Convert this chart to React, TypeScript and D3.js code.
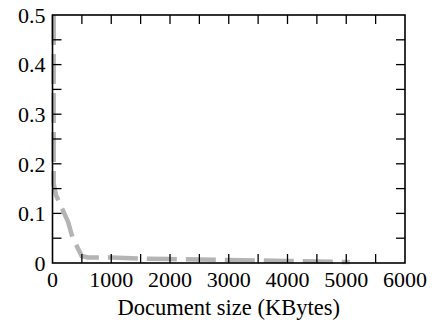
import * as d3 from 'd3';

// document size (KB) vs. fraction of documents
const sizes = [20, 20, 60, 265, 337, 496, 600, 1000, 1500, 2000, 2500, 3000, 3500, 4000, 4500, 5060];
const fractions = [0.5, 0.16, 0.137, 0.083, 0.053, 0.014, 0.011, 0.011, 0.009, 0.008, 0.007, 0.006, 0.005, 0.004, 0.003, 0.002];

const xTickLabels = [0, 1000, 2000, 3000, 4000, 5000, 6000];
const yTickLabels = [0, 0.1, 0.2, 0.3, 0.4, 0.5];
const xTitle = 'Document size (KBytes)';

const width = 432;
const height = 323;
const margin = { top: 15, right: 27, bottom: 60, left: 52.5 };
const textStyle = { fontFamily: '"Liberation Serif"', fontSize: '22px' };

export default function App() {
  const innerWidth = width - margin.left - margin.right;
  const innerHeight = height - margin.top - margin.bottom;

  const x = d3.scaleLinear().domain([0, 6000]).range([0, innerWidth]);
  const y = d3.scaleLinear().domain([0, 0.5]).range([innerHeight, 0]);

  const pts = sizes.map((s, i) => [s, fractions[i]] as [number, number]);
  const line = d3
    .line<[number, number]>()
    .x((d) => x(d[0]))
    .y((d) => y(d[1]));

  const tickLen = 9;
  const xMinor = d3.range(500, 6000, 500);
  const yMinor = d3.range(1, 10).map((k) => k * 0.05);

  return (
    <svg
      width={width}
      height={height}
      style={{ position: 'absolute', left: 0, top: 0, background: '#fff' }}
    >
      <g transform={`translate(${margin.left},${margin.top})`}>
        <path
          d={line(pts) ?? ''}
          fill="none"
          stroke="#b4b4b4"
          strokeWidth={4.5}
          strokeDasharray="30,9"
        />
        <g stroke="#000" strokeWidth={1.3}>
          {xMinor.map((t) => (
            <g key={`x${t}`}>
              <line x1={x(t)} x2={x(t)} y1={innerHeight} y2={innerHeight - tickLen} />
              <line x1={x(t)} x2={x(t)} y1={0} y2={tickLen} />
            </g>
          ))}
          {yMinor.map((t) => (
            <g key={`y${t}`}>
              <line x1={0} x2={tickLen} y1={y(t)} y2={y(t)} />
              <line x1={innerWidth} x2={innerWidth - tickLen} y1={y(t)} y2={y(t)} />
            </g>
          ))}
        </g>
        <rect x={0} y={0} width={innerWidth} height={innerHeight} fill="none" stroke="#000" strokeWidth={1.6} />
        {xTickLabels.map((d) => (
          <text key={d} x={x(d)} y={innerHeight + 24} textAnchor="middle" style={textStyle}>
            {String(d)}
          </text>
        ))}
        {yTickLabels.map((d) => (
          <text key={d} x={-7} y={y(d)} dy="0.35em" textAnchor="end" style={textStyle}>
            {String(d)}
          </text>
        ))}
        <text
          x={innerWidth / 2}
          y={innerHeight + 52}
          textAnchor="middle"
          style={{ ...textStyle, fontSize: '22.5px' }}
        >
          {xTitle}
        </text>
      </g>
    </svg>
  );
}
